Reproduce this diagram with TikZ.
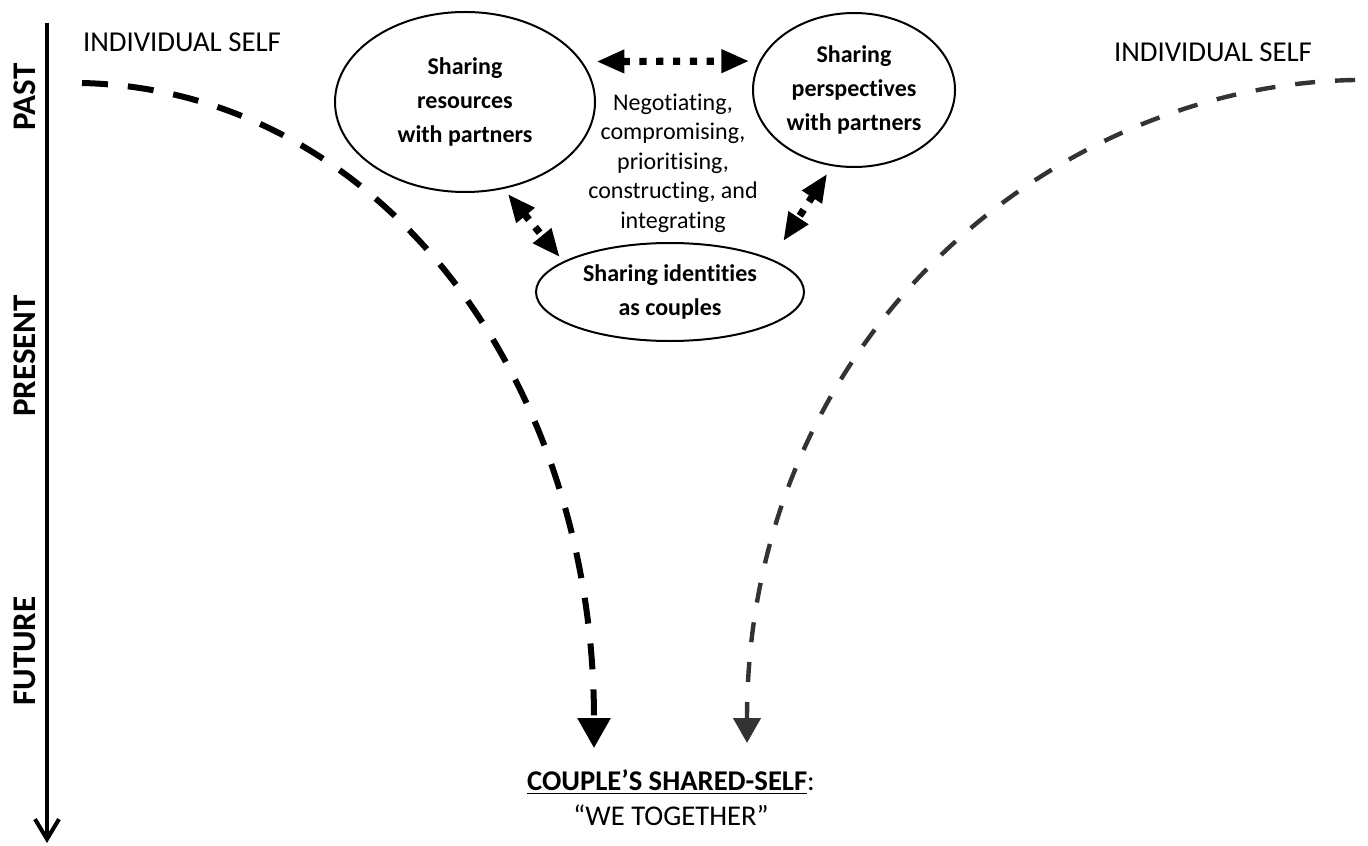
\documentclass[tikz,border=0pt]{standalone}
\usepackage{fontspec}
\setmainfont{Carlito}[Ligatures=NoCommon]
\usetikzlibrary{arrows.meta,shapes.geometric}

\begin{document}
\begin{tikzpicture}[x=0.5pt,y=-0.5pt,
  bubble/.style={ellipse,draw,line width=1pt,inner sep=0pt,align=center,
    font=\bfseries\fontsize{12}{17}\selectfont},
  linkarrow/.style={{Triangle[length=14pt,width=11pt]}-{Triangle[length=14pt,width=11pt]},
    line width=3.6pt,dash pattern=on 3.6pt off 4.8pt},
  timelabel/.style={rotate=90,anchor=base,font=\bfseries\fontsize{16.5}{20}\selectfont},
  selflabel/.style={anchor=base,font=\fontsize{14.4}{17}\selectfont}]

  \useasboundingbox (0,0) rectangle (1368,845);

  % draw the time axis
  \coordinate (then) at (47,23);
  \coordinate (later) at (47,843);
  \draw[line width=2pt,-{Straight Barb[length=10pt,width=12pt]}] (then) -- (later);

  \foreach \ty/\tname in {97/PAST,356/PRESENT,651/FUTURE} {
    \node[timelabel] (\tname) at (35,\ty) {\tname};
  }

  % the two individual selves
  \node[selflabel] (selfL) at (182,52) {INDIVIDUAL SELF};
  \node[selflabel] (selfR) at (1213,62) {INDIVIDUAL SELF};

  \coordinate (startL) at (82,83);
  \coordinate (tipL) at (594,748);
  \coordinate (startR) at (1355,80);
  \coordinate (tipR) at (747,743);

  % dashed paths down to the shared self
  \draw[line width=3pt,dash pattern=on 13pt off 10pt,-{Triangle[length=15pt,width=16pt]}]
    (startL) .. controls (380,90) and (594,380) .. (tipL);
  \draw[black!80,line width=2.2pt,dash pattern=on 10pt off 10pt,-{Triangle[length=12.5pt,width=13.5pt]}]
    (startR) .. controls (1050,85) and (747,340) .. (tipR);

  % sharing bubbles
  \node[bubble,minimum width=130pt,minimum height=90pt] (res) at (465,102)
    {Sharing\\resources\\with partners};
  \node[bubble,minimum width=101pt,minimum height=77pt] (persp) at (854,90)
    {Sharing\\perspectives\\with partners};
  \node[bubble,minimum width=134pt,minimum height=49pt] (ident) at (670,292)
    {Sharing identities\\as couples};

  \node[align=center,font=\fontsize{12}{14.75}\selectfont] (mid) at (673,163)
    {Negotiating,\\compromising,\\prioritising,\\constructing, and\\integrating};

  % links between the bubbles
  \draw[linkarrow,shorten <=7pt,shorten >=5pt] (res.19) -- (persp.163);
  \draw[linkarrow,shorten <=3.2pt,shorten >=2.7pt] (res.-66) -- (ident.164);
  \draw[linkarrow,shorten <=4.5pt,shorten >=10.7pt] (persp.254) -- (ident.18);

  % the shared self
  \node[align=center,font=\fontsize{14.3}{17.5}\selectfont] (shared) at (671,798)
    {\textbf{\underline{COUPLE’S SHARED-SELF}}:\\“WE TOGETHER”};

\end{tikzpicture}
\end{document}
